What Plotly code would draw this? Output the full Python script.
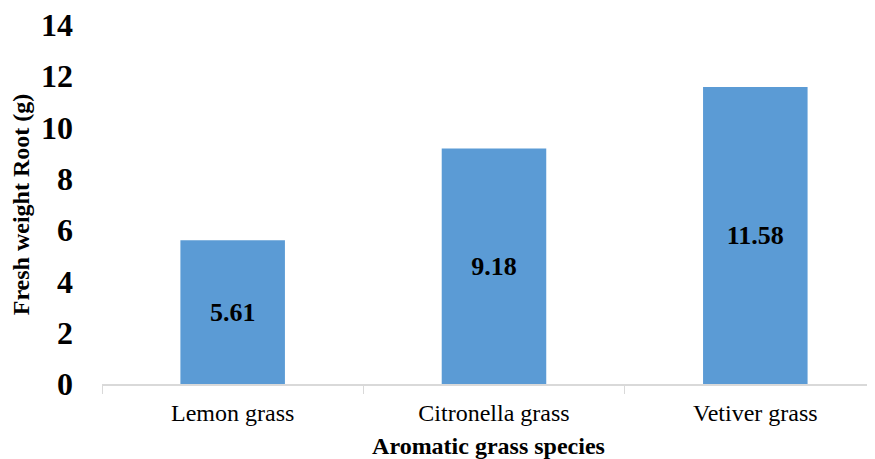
import plotly.graph_objects as go

categories = ["Lemon grass", "Citronella grass", "Vetiver grass"]
values = [5.61, 9.18, 11.58]
labels = ["5.61", "9.18", "11.58"]
y_ticks = [0, 2, 4, 6, 8, 10, 12, 14]

FONT = "Liberation Serif, Times New Roman, serif"

fig = go.Figure(go.Bar(
    x=categories, y=values, text=labels,
    marker=dict(color="#5B9BD5", line=dict(width=0)),
    textposition="inside", insidetextanchor="middle",
    textfont=dict(family=FONT, size=26, color="black", weight="bold"),
    width=0.4,
))

# page body adds an 8px offset; figure sized so the page fits the window
fig.update_layout(
    width=867, height=451,
    margin=dict(l=94, r=0, t=17, b=75),
    plot_bgcolor="white", paper_bgcolor="white",
    showlegend=False,
    font=dict(family=FONT, color="black"),
)
fig.update_xaxes(
    range=[-0.5, 2.458],
    automargin=False,
    tickson="boundaries",
    showline=True, linecolor="#d9d9d9", linewidth=1.5,
    ticks="outside", ticklen=8, tickcolor="#d9d9d9",
    tickfont=dict(family=FONT, size=24, color="black"),
    ticklabelstandoff=6,
    title=dict(text="<b>Aromatic grass species</b>", font=dict(family=FONT, size=24), standoff=13),
    showgrid=False,
)
fig.update_yaxes(
    range=[0, 14], tickvals=y_ticks,
    automargin=False,
    showgrid=False, showline=False, zeroline=False,
    tickfont=dict(family=FONT, size=32, color="black", weight="bold"),
    ticklabelstandoff=28,
    ticklabeloverflow="allow",
    title=dict(text="<b>Fresh weight Root (g)</b>", font=dict(family=FONT, size=24), standoff=5),
)

fig.write_html("out.html")
